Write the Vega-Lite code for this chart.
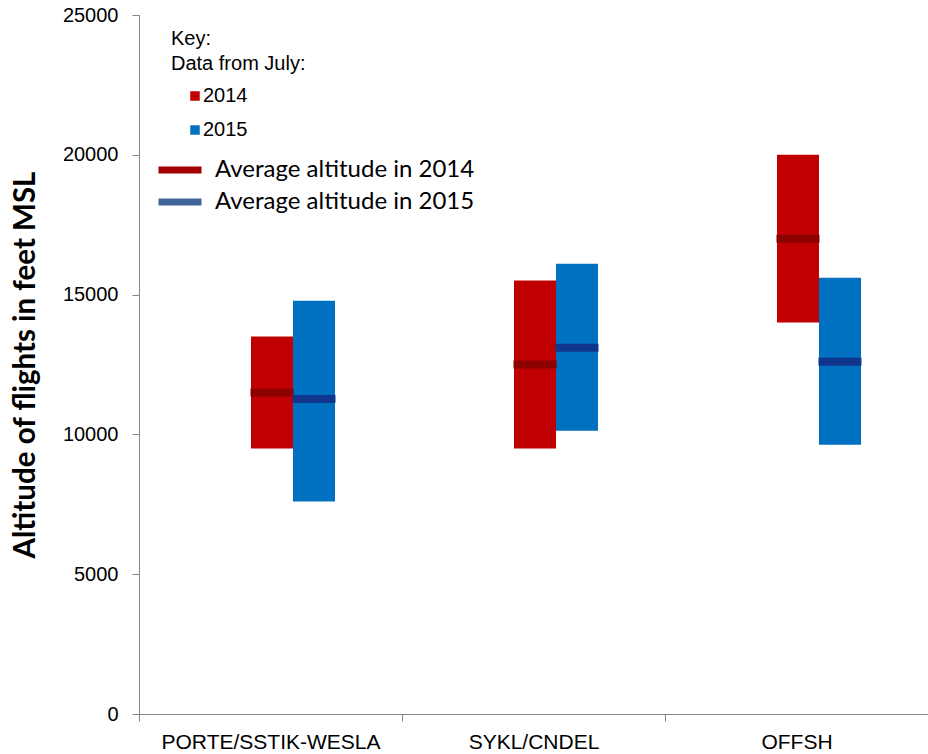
{
  "$schema": "https://vega.github.io/schema/vega-lite/v6.json",
  "width": 789,
  "height": 699,
  "autosize": {"type": "none"},
  "padding": {"left": 139, "top": 15, "right": 0, "bottom": 40},
  "background": "white",
  "config": {
    "view": {"stroke": null},
    "axis": {"domainColor": "#868686", "tickColor": "#868686", "labelColor": "black", "grid": false, "labelFont": "Liberation Sans", "labelFontSize": 20, "labelLimit": 0}
  },
  "data": {
    "values": [
      {"route": "PORTE/SSTIK-WESLA", "year": "2014", "low": 9500, "high": 13500, "avg": 11500},
      {"route": "PORTE/SSTIK-WESLA", "year": "2015", "low": 7600, "high": 14780, "avg": 11270},
      {"route": "SYKL/CNDEL", "year": "2014", "low": 9500, "high": 15500, "avg": 12500},
      {"route": "SYKL/CNDEL", "year": "2015", "low": 10130, "high": 16100, "avg": 13100},
      {"route": "OFFSH", "year": "2014", "low": 14000, "high": 20000, "avg": 17000},
      {"route": "OFFSH", "year": "2015", "low": 9630, "high": 15600, "avg": 12600}
    ]
  },
  "encoding": {
    "x": {
      "field": "route", "type": "nominal", "sort": null,
      "scale": {"paddingInner": 0, "paddingOuter": 0},
      "axis": {"title": null, "labelAngle": 0, "tickBand": "extent", "tickSize": 7, "labelPadding": 10, "labelFontSize": 21}
    },
    "xOffset": {
      "field": "year", "type": "nominal",
      "scale": {"domain": ["a", "b", "2014", "2015", "c"], "paddingInner": 0, "paddingOuter": 0.631, "align": 0.528}
    }
  },
  "layer": [
    {
      "mark": {"type": "bar"},
      "encoding": {
        "y": {
          "field": "low", "type": "quantitative",
          "scale": {"domain": [0, 25000], "nice": false},
          "axis": {"title": "Altitude of flights in feet MSL", "values": [0, 5000, 10000, 15000, 20000, 25000], "format": "d", "tickSize": 7, "labelPadding": 14, "titleFont": "Lato", "titleFontSize": 29.5, "titleFontWeight": "bold", "titleColor": "black", "titlePadding": 22}
        },
        "y2": {"field": "high"},
        "color": {
          "field": "year", "type": "nominal",
          "scale": {"domain": ["2014", "2015"], "range": ["#C00000", "#0070C0"]},
          "legend": {
            "orient": "none", "legendX": 32, "legendY": 14, "padding": 0,
            "title": ["Key:", "Data from July:"],
            "titleFont": "Liberation Sans", "titleFontSize": 20, "titleFontWeight": "normal", "titleColor": "black", "titleLineHeight": 25, "titlePadding": 12,
            "symbolType": "square", "symbolSize": 90, "symbolOffset": 14, "symbolStrokeWidth": 0,
            "labelFont": "Liberation Sans", "labelFontSize": 20, "labelColor": "black", "labelOffset": -2, "rowPadding": 14
          }
        }
      }
    },
    {
      "transform": [{"filter": "datum.year === '2014'"}],
      "mark": {"type": "tick", "thickness": 8, "size": 43, "opacity": 1},
      "encoding": {
        "y": {"field": "avg", "type": "quantitative", "title": "Altitude of flights in feet MSL"},
        "color": {
          "field": "year", "type": "nominal",
          "scale": {"domain": ["2014"], "range": ["#8C0000"]},
          "legend": {
            "orient": "none", "legendX": 16, "legendY": 130, "padding": 0, "title": null,
            "symbolType": "stroke", "symbolSize": 1849, "symbolStrokeWidth": 7, "symbolStrokeColor": "#A20000",
            "labelFont": "Lato", "labelFontSize": 24, "labelColor": "black", "labelOffset": 10, "labelLimit": 0,
            "labelExpr": "'Average altitude in ' + datum.label"
          }
        }
      }
    },
    {
      "transform": [{"filter": "datum.year === '2015'"}],
      "mark": {"type": "tick", "thickness": 8, "size": 43, "opacity": 1},
      "encoding": {
        "y": {"field": "avg", "type": "quantitative", "title": "Altitude of flights in feet MSL"},
        "color": {
          "field": "year", "type": "nominal",
          "scale": {"domain": ["2015"], "range": ["#0F368C"]},
          "legend": {
            "orient": "none", "legendX": 16, "legendY": 162, "padding": 0, "title": null,
            "symbolType": "stroke", "symbolSize": 1849, "symbolStrokeWidth": 7, "symbolStrokeColor": "#3F6598",
            "labelFont": "Lato", "labelFontSize": 24, "labelColor": "black", "labelOffset": 10, "labelLimit": 0,
            "labelExpr": "'Average altitude in ' + datum.label"
          }
        }
      }
    }
  ],
  "resolve": {"scale": {"color": "independent"}, "legend": {"color": "independent"}}
}
